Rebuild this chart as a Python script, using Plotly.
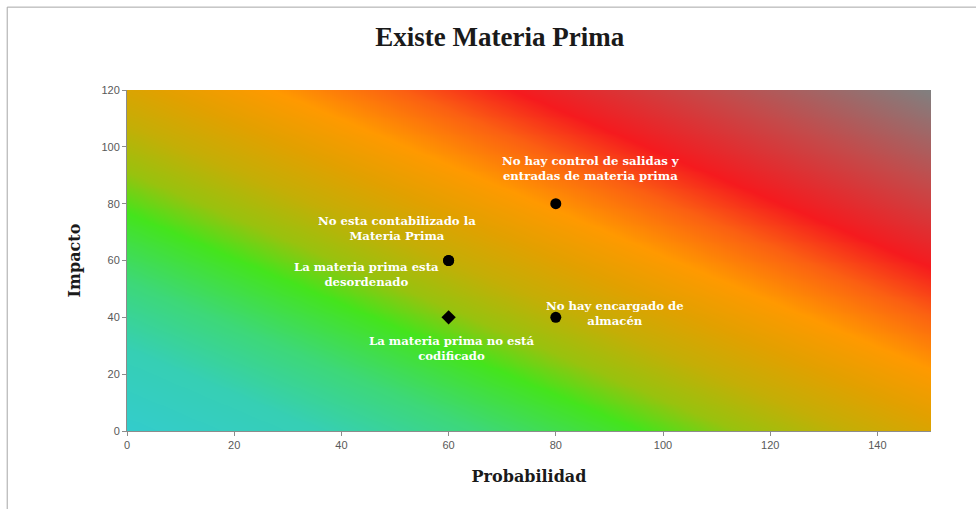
import numpy as np
import plotly.graph_objects as go

# Data
prob = [80, 60, 60, 60, 80]
impacto = [80, 60, 60, 40, 40]
symbols = ["circle", "circle", "circle", "diamond", "circle"]
labels = [
    "No hay control de salidas y<br>entradas de materia prima",
    "No esta contabilizado la<br>Materia Prima",
    "La materia prima esta<br>desordenado",
    "La materia prima no está<br>codificado",
    "No hay encargado de<br>almacén",
]
label_shift = [(35, 35), (-52, 32), (-82, -14), (3, -31), (59, 4)]
xticks = [0, 20, 40, 60, 80, 100, 120, 140]
yticks = [0, 20, 40, 60, 80, 100, 120]

# Background risk gradient (decorative)
gx = np.linspace(0, 150, 151)
gy = np.linspace(0, 120, 121)
GX, GY = np.meshgrid(gx, gy)
GZ = (GX / 150 + GY / 120) / 2

colorscale = [
    [0.0, "#33CCCC"],
    [0.12, "#36CFB4"],
    [0.22, "#3DD878"],
    [0.32, "#44E41C"],
    [0.38, "#98C20E"],
    [0.45, "#C4AE06"],
    [0.52, "#E2A000"],
    [0.59, "#FF9900"],
    [0.67, "#FB6012"],
    [0.74, "#F51A1E"],
    [0.86, "#C44A4A"],
    [1.0, "#808080"],
]

fig = go.Figure()
fig.add_trace(go.Heatmap(x=gx, y=gy, z=GZ, colorscale=colorscale, zmin=0, zmax=1,
                         zsmooth="best", showscale=False, hoverinfo="skip"))
fig.add_trace(go.Scatter(x=prob, y=impacto, mode="markers",
                         marker=dict(color="black", size=11, symbol=symbols),
                         showlegend=False))

for xv, yv, t, (dx, dy) in zip(prob, impacto, labels, label_shift):
    fig.add_annotation(x=xv, y=yv, xref="x", yref="y", text="<b>" + t + "</b>",
                       showarrow=False, xshift=dx, yshift=dy,
                       font=dict(family="DejaVu Serif", size=11.7, color="white"),
                       align="center")

fig.add_shape(type="rect", xref="paper", yref="paper",
              x0=-0.149, x1=1.07, y0=-0.26, y1=1.243,
              line=dict(color="#A6A6A6", width=1), fillcolor="rgba(0,0,0,0)", layer="below")

axis_common = dict(showgrid=False, zeroline=False, showline=True, linecolor="#8C8C8C",
                   linewidth=1, ticks="outside", ticklen=4, tickcolor="#8C8C8C",
                   tickfont=dict(family="Liberation Sans", size=11, color="#595959"),
                   mirror=False)

fig.update_layout(
    width=976, height=509,
    margin=dict(l=127, r=45, t=90, b=78),
    paper_bgcolor="white", plot_bgcolor="white",
    title=dict(text="<b>Existe Materia Prima</b>", x=0.512, xanchor="center",
               y=0.928, yanchor="middle",
               font=dict(family="Liberation Serif", size=27, color="#1a1a1a")),
    xaxis=dict(range=[0, 150], tickvals=xticks, **axis_common,
               title=dict(text="<b>Probabilidad</b>", standoff=20,
                          font=dict(family="DejaVu Serif", size=16, color="#1a1a1a"))),
    yaxis=dict(range=[0, 120], tickvals=yticks, **axis_common,
               title=dict(text="<b>Impacto</b>", standoff=16,
                          font=dict(family="DejaVu Serif", size=16, color="#1a1a1a"))),
)

fig.write_html("out.html")
